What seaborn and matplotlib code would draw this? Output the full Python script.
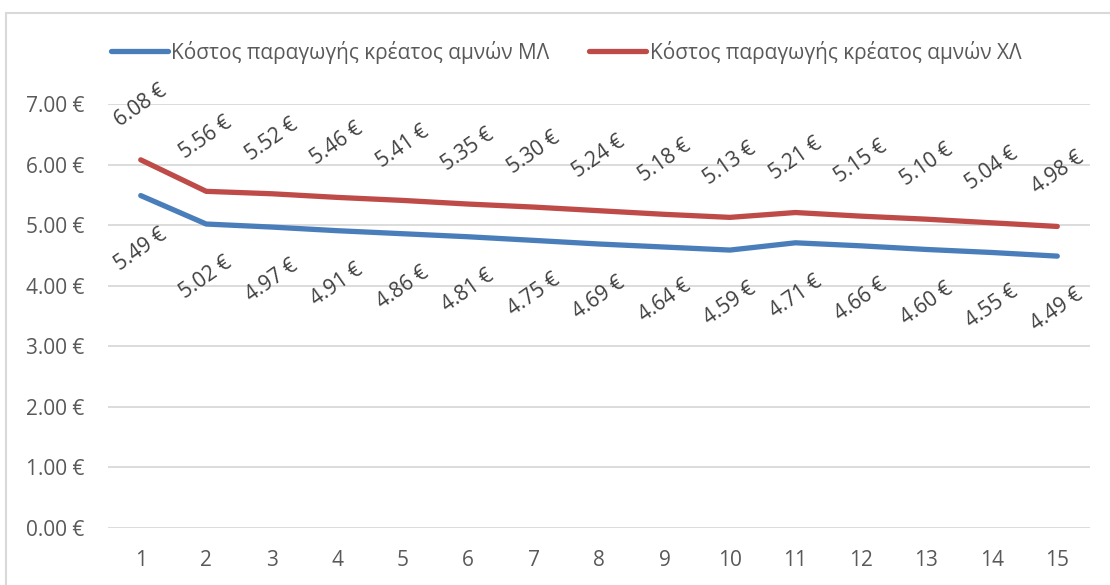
import matplotlib
matplotlib.use("Agg")
import matplotlib.pyplot as plt
import seaborn as sns
import pandas as pd
from matplotlib.patches import Rectangle

# Production cost of lamb meat per period
periods = list(range(1, 16))
cost_ml = [5.49, 5.02, 4.97, 4.91, 4.86, 4.81, 4.75, 4.69, 4.64, 4.59, 4.71, 4.66, 4.60, 4.55, 4.49]
cost_xl = [6.08, 5.56, 5.52, 5.46, 5.41, 5.35, 5.30, 5.24, 5.18, 5.13, 5.21, 5.15, 5.10, 5.04, 4.98]
series_names = ["Κόστος παραγωγής κρέατος αμνών ΜΛ", "Κόστος παραγωγής κρέατος αμνών ΧΛ"]
y_ticks = [0, 1, 2, 3, 4, 5, 6, 7]

colors = ["#4A7EBB", "#BE4B48"]
text_color = "#595959"
label_color = "#404040"

sns.set_theme(style="white")
plt.rcParams["font.family"] = ["Open Sans", "DejaVu Sans"]

df = pd.concat([
    pd.DataFrame({"period": periods, "cost": cost_ml, "series": series_names[0]}),
    pd.DataFrame({"period": periods, "cost": cost_xl, "series": series_names[1]}),
])

fig = plt.figure(figsize=(11.10, 5.85), dpi=100)
ax = fig.add_axes([0.0973, 0.0974, 0.8847, 0.7246])

sns.lineplot(data=df, x="period", y="cost", hue="series", palette=colors,
             linewidth=3.8, ax=ax, legend=True, solid_capstyle="round")

ax.set_xlim(0.5, 15.5)
ax.set_ylim(0, 7)
ax.set_xticks(periods)
ax.set_xticklabels([str(p) for p in periods])
ax.set_yticks(y_ticks)
ax.set_yticklabels([f"{v:.2f} €" for v in y_ticks])
ax.set_xlabel("")
ax.set_ylabel("")
ax.tick_params(axis="both", length=0, labelsize=15, colors=text_color)
ax.tick_params(axis="x", pad=16)
ax.tick_params(axis="y", pad=17)
ax.grid(axis="y", color="#D9D9D9", linewidth=1.3)
ax.set_axisbelow(True)
for s in ax.spines.values():
    s.set_visible(False)

# Data labels: ΧΛ above the line, ΜΛ below it
for x, v in zip(periods, cost_xl):
    ax.annotate(f"{v:.2f} €", (x, v), xytext=(0, 54), textcoords="offset pixels",
                ha="center", va="center", rotation=35, fontsize=15, color=label_color)
for x, v in zip(periods, cost_ml):
    ax.annotate(f"{v:.2f} €", (x, v), xytext=(0, -54), textcoords="offset pixels",
                ha="center", va="center", rotation=35, fontsize=15, color=label_color)

handles, labels = ax.get_legend_handles_labels()
ax.legend(handles, labels, loc="center", bbox_to_anchor=(0.510, 0.911),
          bbox_transform=fig.transFigure, ncol=2, frameon=False,
          fontsize=15, handlelength=2.75, handletextpad=0.15, columnspacing=1.9,
          labelcolor=text_color)

# Chart area border
fig.patches.append(Rectangle((6 / 1110, -0.05), 1.2, 1 - 12.5 / 585 + 0.05,
                             transform=fig.transFigure, fill=False,
                             edgecolor="#D9D9D9", linewidth=1.5))

fig.savefig("out.png", dpi=100)
